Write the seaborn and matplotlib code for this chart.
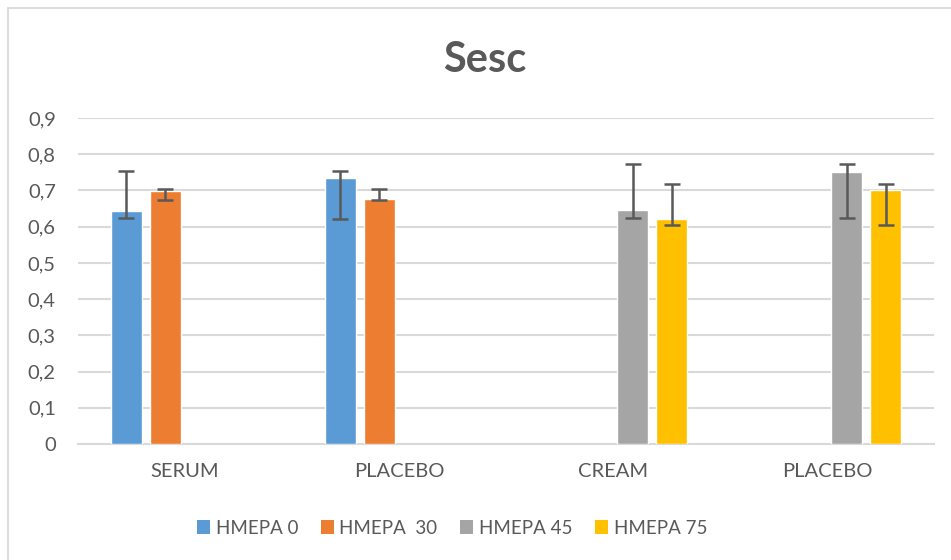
import matplotlib
matplotlib.use("Agg")
import matplotlib.pyplot as plt
import seaborn as sns
import pandas as pd
import numpy as np
from matplotlib.lines import Line2D
from matplotlib.ticker import FuncFormatter, MultipleLocator

# ---- data ----
cat_keys = ["SERUM", "PLACEBO_1", "CREAM", "PLACEBO_2"]
cat_labels = ["SERUM", "PLACEBO", "CREAM", "PLACEBO"]
series = ["ΗΜΕΡΑ 0", "ΗΜΕΡΑ  30", "ΗΜΕΡΑ 45", "ΗΜΕΡΑ 75"]
colors = ["#5B9BD5", "#ED7D31", "#A5A5A5", "#FFC000"]

row_cat = ["SERUM", "SERUM", "PLACEBO_1", "PLACEBO_1", "CREAM", "CREAM", "PLACEBO_2", "PLACEBO_2"]
row_series = ["ΗΜΕΡΑ 0", "ΗΜΕΡΑ  30", "ΗΜΕΡΑ 0", "ΗΜΕΡΑ  30", "ΗΜΕΡΑ 45", "ΗΜΕΡΑ 75", "ΗΜΕΡΑ 45", "ΗΜΕΡΑ 75"]
values = [0.642, 0.699, 0.734, 0.677, 0.647, 0.621, 0.751, 0.702]
err_low = [0.623, 0.673, 0.622, 0.673, 0.625, 0.605, 0.625, 0.605]
err_high = [0.753, 0.703, 0.753, 0.703, 0.774, 0.719, 0.774, 0.719]

df = pd.DataFrame({"cat": row_cat, "series": row_series, "value": values,
                   "lo": err_low, "hi": err_high})

# ---- style ----
sns.set_theme(style="white")
plt.rcParams["font.family"] = ["Lato", "DejaVu Sans"]
text_col = "#595959"
grid_col = "#D9D9D9"

W, H = 951, 560
fig = plt.figure(figsize=(W / 100, H / 100), dpi=100)
ax = fig.add_axes([78 / W, 1 - 444 / H, (934 - 78) / W, (444 - 118) / H])

group_width = 0.729
gap = 0.205
sns.barplot(data=df, x="cat", y="value", hue="series", order=cat_keys,
            hue_order=series, palette=colors, width=group_width, gap=gap,
            errorbar=None, saturation=1, ax=ax, legend=False, zorder=3)

# custom (asymmetric) error bars
nh = len(series)
for _, r in df.iterrows():
    xi = cat_keys.index(r["cat"]) + (series.index(r["series"]) - (nh - 1) / 2) * group_width / nh
    ax.errorbar([xi], [r["value"]],
                yerr=[[r["value"] - r["lo"]], [r["hi"] - r["value"]]],
                fmt="none", ecolor=text_col, elinewidth=1.8, capsize=6,
                capthick=1.8, zorder=4)

ax.set_ylim(0, 0.9)
ax.set_xlim(-0.5, len(cat_keys) - 0.5)
ax.yaxis.set_major_locator(MultipleLocator(0.1))
ax.yaxis.set_major_formatter(FuncFormatter(
    lambda v, p: "0" if abs(v) < 1e-9 else f"{v:.1f}".replace(".", ",")))
ax.set_xticks(range(len(cat_keys)))
ax.set_xticklabels(cat_labels)
ax.set_xlabel("")
ax.set_ylabel("")
ax.yaxis.grid(True, color=grid_col, linewidth=1.5, zorder=0)
ax.set_axisbelow(True)
for s in ["top", "right", "left"]:
    ax.spines[s].set_visible(False)
ax.spines["bottom"].set_color(grid_col)
ax.spines["bottom"].set_linewidth(1.5)
ax.tick_params(axis="y", length=0, pad=16, labelsize=14.5, labelcolor=text_col)
ax.tick_params(axis="x", length=0, pad=14, labelsize=14.5, labelcolor=text_col)

# title
fig.text(484.5 / W, 1 - 72 / H, "Sesc", ha="center", va="baseline",
         fontsize=30, fontweight="bold", color=text_col)

# legend
handles = [plt.Rectangle((0, 0), 1, 1, facecolor=c, edgecolor="none") for c in colors]
fig.legend(handles, series, loc="center", bbox_to_anchor=(452 / W, 1 - 528 / H),
           ncol=4, frameon=False, fontsize=13.5, labelcolor=text_col,
           handlelength=0.7, handleheight=0.7, handletextpad=0.3,
           columnspacing=1.2)

# chart-area border (left and top visible)
fig.add_artist(Line2D([7.5 / W, 7.5 / W], [0, 1 - 7.5 / H], transform=fig.transFigure,
                      color=grid_col, linewidth=1.3))
fig.add_artist(Line2D([7.5 / W, 1], [1 - 7.5 / H, 1 - 7.5 / H], transform=fig.transFigure,
                      color=grid_col, linewidth=1.3))

fig.savefig("out.png", dpi=100)
